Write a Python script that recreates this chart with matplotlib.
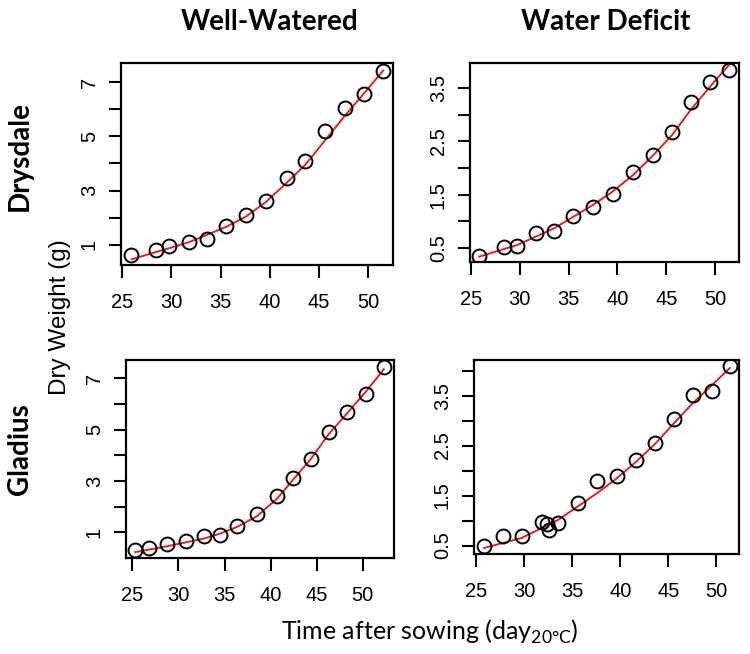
import matplotlib
matplotlib.use("Agg")
import matplotlib.pyplot as plt

# ---------------------------------------------------------------------------
# data (x = time after sowing, y = dry weight in g)
# ---------------------------------------------------------------------------
# Drysdale, well-watered
dw_x = [25.9, 28.45, 29.8, 31.85, 33.6, 35.6, 37.6, 39.6, 41.7, 43.6, 45.6, 47.6, 49.6, 51.5]
dw_y = [0.61, 0.80, 0.97, 1.12, 1.21, 1.71, 2.10, 2.62, 3.45, 4.10, 5.18, 6.06, 6.56, 7.42]
dw_fit_x = [26.0, 28.0, 29.8, 31.8, 33.6, 35.6, 37.6, 39.6, 41.6, 43.6, 45.6, 47.6, 49.6, 51.5]
dw_fit_y = [0.47, 0.69, 0.88, 1.10, 1.37, 1.67, 2.05, 2.58, 3.25, 3.95, 4.85, 5.75, 6.60, 7.42]

# Drysdale, water deficit
dd_x = [25.85, 28.4, 29.75, 31.7, 33.5, 35.5, 37.5, 39.5, 41.6, 43.6, 45.6, 47.5, 49.5, 51.4]
dd_y = [0.36, 0.52, 0.54, 0.78, 0.82, 1.11, 1.27, 1.52, 1.92, 2.25, 2.67, 3.24, 3.61, 3.83]
dd_fit_x = [25.85, 27.8, 29.75, 31.7, 33.5, 35.5, 37.5, 39.5, 41.6, 43.6, 45.6, 47.5, 49.5, 51.5]
dd_fit_y = [0.34, 0.45, 0.56, 0.72, 0.87, 1.09, 1.31, 1.56, 1.87, 2.23, 2.62, 3.09, 3.53, 3.95]

# Gladius, well-watered
gw_x = [25.3, 26.8, 28.8, 30.8, 32.8, 34.5, 36.35, 38.5, 40.7, 42.4, 44.4, 46.3, 48.3, 50.35, 52.35]
gw_y = [0.30, 0.38, 0.56, 0.68, 0.86, 0.88, 1.25, 1.71, 2.40, 3.11, 3.86, 4.90, 5.68, 6.39, 7.42]
gw_fit_x = [25.3, 28.8, 32.8, 34.5, 36.35, 38.5, 40.7, 42.4, 44.4, 46.3, 48.3, 50.35, 52.3]
gw_fit_y = [0.23, 0.46, 0.76, 0.95, 1.21, 1.62, 2.31, 3.03, 3.87, 4.82, 5.63, 6.48, 7.35]

# Gladius, water deficit
gd_x = [25.8, 27.8, 29.7, 31.85, 32.4, 32.55, 33.55, 35.55, 37.6, 39.6, 41.6, 43.6, 45.55, 47.6, 49.5, 51.4]
gd_y = [0.49, 0.69, 0.69, 0.98, 0.93, 0.81, 0.95, 1.35, 1.80, 1.89, 2.21, 2.56, 3.04, 3.52, 3.59, 4.09]
gd_fit_x = [25.8, 29.7, 33.5, 35.55, 37.6, 39.6, 41.6, 43.6, 45.55, 47.6, 49.5, 51.4]
gd_fit_y = [0.45, 0.65, 1.01, 1.28, 1.55, 1.84, 2.17, 2.53, 2.94, 3.36, 3.70, 4.05]

col_titles = ["Well-Watered", "Water Deficit"]
row_titles = ["Drysdale", "Gladius"]
x_ticks = [25, 30, 35, 40, 45, 50]
y_ticks_ww = [1, 2, 3, 4, 5, 6, 7]
y_labels_ww = ["1", "", "3", "", "5", "", "7"]
y_ticks_dd = [0.5, 1.0, 1.5, 2.0, 2.5, 3.0, 3.5]
y_labels_dd = ["0.5", "", "1.5", "", "2.5", "", "3.5"]
y_ticks_gd = [0.5, 1.0, 1.5, 2.0, 2.5, 3.0, 3.5, 4.0]
y_labels_gd = ["0.5", "", "1.5", "", "2.5", "", "3.5", ""]

TICK_FONT = ["Liberation Sans", "DejaVu Sans"]
LABEL_FONT = ["Lato", "DejaVu Sans"]


def panel(fig, rect, x, y, fx, fy, xlim, ylim, yticks, ylabels):
    ax = fig.add_axes(rect)
    ax.plot(fx, fy, color="#EE1C1C", lw=1.4, zorder=2)
    ax.plot(x, y, ls="none", marker="o", ms=10, mfc="none", mec="black",
            mew=1.4, zorder=3)
    ax.set_xlim(*xlim)
    ax.set_ylim(*ylim)
    ax.set_xticks(x_ticks)
    ax.set_xticklabels([str(t) for t in x_ticks], family=TICK_FONT)
    ax.set_yticks(yticks)
    ax.set_yticklabels(ylabels, family=TICK_FONT, rotation=90, va="center")
    ax.tick_params(direction="out", length=9, width=1.5, labelsize=14.5,
                   color="black")
    ax.tick_params(axis="x", pad=11)
    ax.tick_params(axis="y", pad=7)
    for s in ax.spines.values():
        s.set_linewidth(1.6)
    return ax


W, H = 750, 654
fig = plt.figure(figsize=(W / 100, H / 100), dpi=100)


def box(l, r, t, b):
    """pixel box -> figure rect"""
    return [l / W, 1 - b / H, (r - l) / W, (b - t) / H]


panel(fig, box(121, 393, 63, 265), dw_x, dw_y, dw_fit_x, dw_fit_y,
      (24.9, 52.5), (0.26, 7.7), y_ticks_ww, y_labels_ww)
panel(fig, box(470, 739, 63, 262), dd_x, dd_y, dd_fit_x, dd_fit_y,
      (24.9, 52.45), (0.24, 3.97), y_ticks_dd, y_labels_dd)
panel(fig, box(126, 394, 360, 558), gw_x, gw_y, gw_fit_x, gw_fit_y,
      (24.3, 53.4), (0.0, 7.71), y_ticks_ww, y_labels_ww)
panel(fig, box(474, 739, 360, 554), gd_x, gd_y, gd_fit_x, gd_fit_y,
      (24.75, 52.35), (0.33, 4.21), y_ticks_gd, y_labels_gd)

# column / row headings
fig.text(270 / W, 1 - 22 / H, col_titles[0], ha="center", va="center",
         fontsize=20, fontweight="bold", family=LABEL_FONT)
fig.text(606 / W, 1 - 22 / H, col_titles[1], ha="center", va="center",
         fontsize=20, fontweight="bold", family=LABEL_FONT)
fig.text(20 / W, 1 - 156 / H, row_titles[0], ha="center", va="center",
         rotation=90, fontsize=20, fontweight="bold", family=LABEL_FONT)
fig.text(20 / W, 1 - 449 / H, row_titles[1], ha="center", va="center",
         rotation=90, fontsize=20, fontweight="bold", family=LABEL_FONT)

# shared axis labels
fig.text(60 / W, 1 - 317 / H, "Dry Weight (g)", ha="center", va="center",
         rotation=90, fontsize=17.5, family=TICK_FONT)
fig.text(430 / W, 1 - 632 / H, r"Time after sowing (day$_{\mathregular{20°C}}$)",
         ha="center", va="center", fontsize=18, family=LABEL_FONT)

fig.savefig("out.png", dpi=100)
